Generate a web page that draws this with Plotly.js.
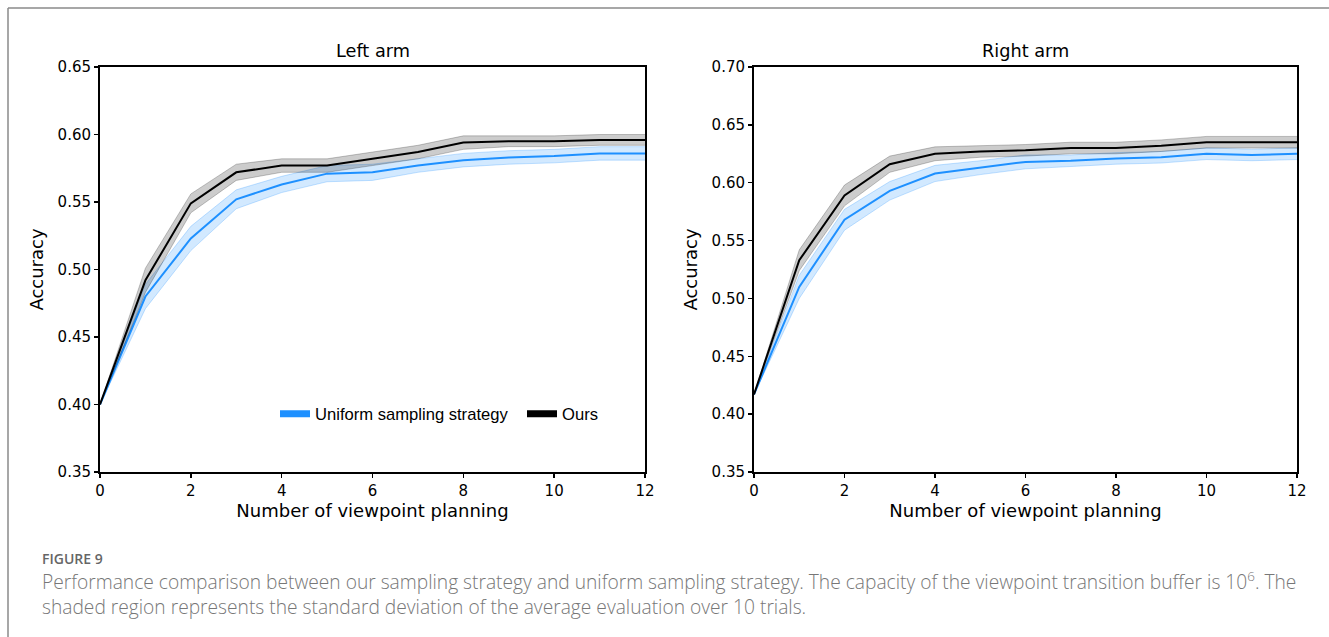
<!DOCTYPE html>
<html>
<head>
<meta charset="utf-8">
<script src="https://cdn.plot.ly/plotly-3.0.1.min.js"></script>
<style>
  html, body { margin: 0; padding: 0; background: #fff; }
  #chart { width: 1329px; height: 637px; }
</style>
</head>
<body>
<div id="chart"></div>
<script>
// ---- data ----
const steps = [0, 1, 2, 3, 4, 5, 6, 7, 8, 9, 10, 11, 12];

const leftUniform    = [0.400, 0.480, 0.523, 0.552, 0.563, 0.571, 0.572, 0.577, 0.581, 0.583, 0.584, 0.586, 0.586];
const leftUniformStd = [0.000, 0.009, 0.009, 0.007, 0.006, 0.006, 0.006, 0.005, 0.005, 0.005, 0.005, 0.005, 0.005];
const leftOurs       = [0.400, 0.492, 0.549, 0.572, 0.577, 0.577, 0.582, 0.587, 0.594, 0.595, 0.595, 0.596, 0.596];
const leftOursStd    = [0.000, 0.009, 0.007, 0.006, 0.005, 0.005, 0.005, 0.005, 0.005, 0.004, 0.004, 0.004, 0.004];

const rightUniform    = [0.417, 0.510, 0.568, 0.593, 0.608, 0.613, 0.618, 0.619, 0.621, 0.622, 0.625, 0.624, 0.625];
const rightUniformStd = [0.000, 0.010, 0.009, 0.008, 0.007, 0.006, 0.006, 0.005, 0.005, 0.005, 0.005, 0.005, 0.005];
const rightOurs       = [0.417, 0.533, 0.589, 0.616, 0.625, 0.627, 0.628, 0.630, 0.630, 0.632, 0.635, 0.635, 0.635];
const rightOursStd    = [0.000, 0.009, 0.009, 0.007, 0.006, 0.005, 0.005, 0.005, 0.005, 0.005, 0.005, 0.005, 0.005];

const seriesNames = ["Uniform sampling strategy", "Ours"];
const panelTitles = ["Left arm", "Right arm"];
const xTicks = [0, 2, 4, 6, 8, 10, 12];
const captionLabel = "FIGURE 9";
const captionLine1 = "Performance comparison between our sampling strategy and uniform sampling strategy. The capacity of the viewpoint transition buffer is 10<sup>6</sup>. The";
const captionLine2 = "shaded region represents the standard deviation of the average evaluation over 10 trials.";

// ---- styling ----
const BLUE = "#1e90ff";
const W = 1329, H = 637;
const px = v => v / W;
const py = v => 1 - v / H;

function band(x, mean, std, color, fill, edge, xa, ya) {
  const up = mean.map((m, i) => m + std[i]);
  const lo = mean.map((m, i) => m - std[i]);
  return [
    {x: x, y: up, type: "scatter", mode: "lines", line: {color: edge, width: 1}, xaxis: xa, yaxis: ya, showlegend: false, hoverinfo: "skip"},
    {x: x, y: lo, type: "scatter", mode: "lines", line: {color: edge, width: 1}, fill: "tonexty", fillcolor: fill, xaxis: xa, yaxis: ya, showlegend: false, hoverinfo: "skip"},
    {x: x, y: mean, type: "scatter", mode: "lines", line: {color: color, width: 2}, xaxis: xa, yaxis: ya, showlegend: false}
  ];
}

const blueFill = "rgba(30,144,255,0.20)", blueEdge = "rgba(30,144,255,0.25)";
const greyFill = "rgba(0,0,0,0.20)", greyEdge = "rgba(0,0,0,0.22)";

const traces = [].concat(
  band(steps, leftUniform, leftUniformStd, BLUE, blueFill, blueEdge, "x", "y"),
  band(steps, leftOurs, leftOursStd, "#000", greyFill, greyEdge, "x", "y"),
  band(steps, rightUniform, rightUniformStd, BLUE, blueFill, blueEdge, "x2", "y2"),
  band(steps, rightOurs, rightOursStd, "#000", greyFill, greyEdge, "x2", "y2"),
  [
    {x: [null], y: [null], type: "scatter", mode: "lines", line: {color: BLUE, width: 7}, name: seriesNames[0], xaxis: "x", yaxis: "y", showlegend: true, legend: "legend"},
    {x: [null], y: [null], type: "scatter", mode: "lines", line: {color: "#000", width: 7}, name: seriesNames[1], xaxis: "x", yaxis: "y", showlegend: true, legend: "legend2"}
  ]
);

const tickFont = {family: "DejaVu Sans", size: 15, color: "#000"};
const labelFont = {family: "DejaVu Sans", size: 18, color: "#000"};
const titleFont = {family: "DejaVu Sans", size: 17.7, color: "#000"};
const legendFont = {family: "Liberation Sans", size: 16.6, color: "#000"};

function xAxis(domain, anchor) {
  return {
    domain: domain, anchor: anchor, range: [0, 12], tickvals: xTicks,
    showline: true, mirror: true, linecolor: "#000", linewidth: 2,
    ticks: "outside", ticklen: 4, tickwidth: 1.5, tickcolor: "#000",
    showgrid: false, zeroline: false, tickfont: tickFont,
    title: {text: "Number of viewpoint planning", font: labelFont, standoff: 3}
  };
}
function yAxis(domain, anchor, range) {
  return {
    domain: domain, anchor: anchor, range: range, dtick: 0.05, tick0: 0, tickformat: ".2f",
    showline: true, mirror: true, linecolor: "#000", linewidth: 2,
    ticks: "outside", ticklen: 4, tickwidth: 1.5, tickcolor: "#000",
    showgrid: false, zeroline: false, tickfont: tickFont,
    title: {text: "Accuracy", font: labelFont, standoff: 9}
  };
}

const yDom = [py(472), py(67)];
const layout = {
  width: W, height: H,
  margin: {l: 0, r: 0, t: 0, b: 0},
  paper_bgcolor: "#fff", plot_bgcolor: "#fff",
  xaxis: xAxis([px(100), px(645)], "y"),
  yaxis: yAxis(yDom, "x", [0.35, 0.65]),
  xaxis2: xAxis([px(754), px(1297)], "y2"),
  yaxis2: yAxis(yDom, "x2", [0.35, 0.70]),
  showlegend: true,
  legend: {
    orientation: "h", x: px(275), y: py(414), xanchor: "left", yanchor: "middle",
    font: legendFont, bgcolor: "rgba(0,0,0,0)", itemwidth: 30
  },
  legend2: {
    orientation: "h", x: px(522), y: py(414), xanchor: "left", yanchor: "middle",
    font: legendFont, bgcolor: "rgba(0,0,0,0)", itemwidth: 30
  },
  annotations: [
    {text: panelTitles[0], xref: "paper", yref: "paper", x: px(372.5), y: py(51), xanchor: "center", yanchor: "middle", showarrow: false, font: titleFont},
    {text: panelTitles[1], xref: "paper", yref: "paper", x: px(1025.5), y: py(51), xanchor: "center", yanchor: "middle", showarrow: false, font: titleFont},
    {text: captionLabel, xref: "paper", yref: "paper", x: px(40), y: py(558), xanchor: "left", yanchor: "middle", showarrow: false, font: {family: "Open Sans", size: 14, color: "#666", weight: 600}},
    {text: captionLine1 + "<br>" + captionLine2, xref: "paper", yref: "paper", x: px(40), y: py(593), xanchor: "left", yanchor: "middle", align: "left", showarrow: false, font: {family: "Open Sans", size: 19.2, color: "#777", weight: 300}}
  ],
  shapes: [
    {type: "line", xref: "paper", yref: "paper", x0: px(8), x1: 1.02, y0: py(8), y1: py(8), line: {color: "#8a8a8a", width: 1.5}},
    {type: "line", xref: "paper", yref: "paper", x0: px(8), x1: px(8), y0: py(8), y1: -0.02, line: {color: "#8a8a8a", width: 1.5}}
  ]
};

Plotly.newPlot("chart", traces, layout, {displayModeBar: false, staticPlot: true});
</script>
</body>
</html>
